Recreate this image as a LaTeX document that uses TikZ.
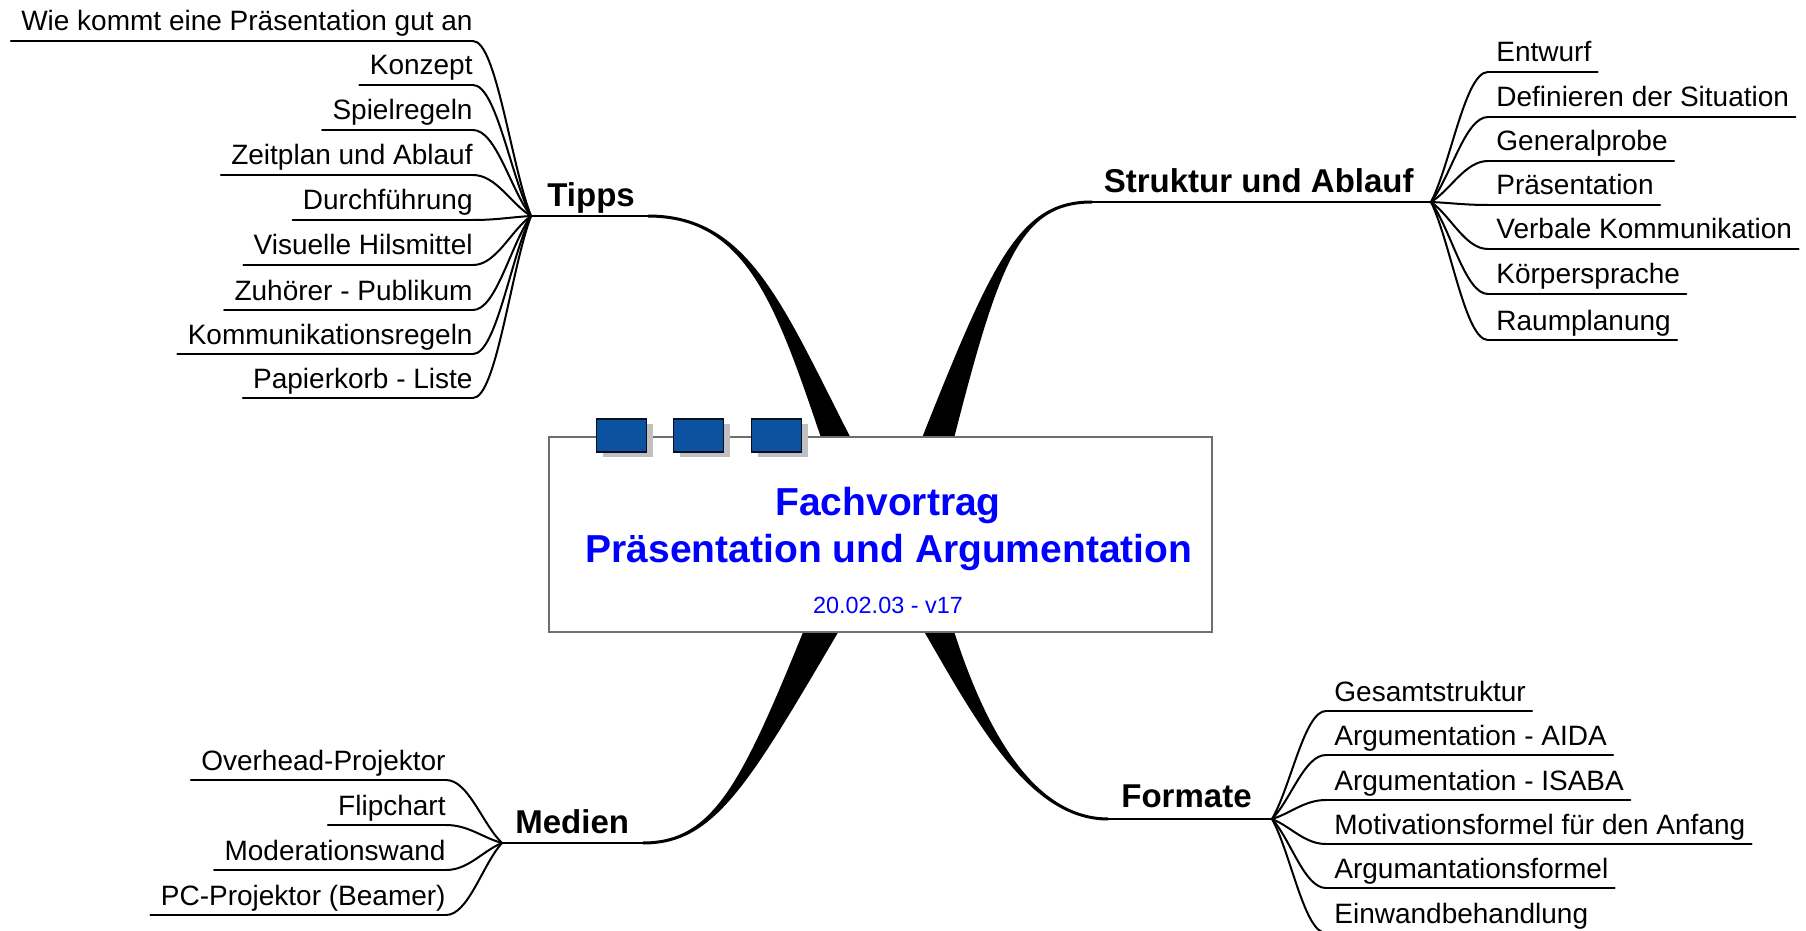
\documentclass[tikz,border=0pt]{standalone}
\usepackage{fontspec}
\setmainfont{Liberation Sans}
\usetikzlibrary{calc,shadows}
\definecolor{sqblue}{RGB}{12,82,160}
\definecolor{boxgray}{RGB}{110,110,110}
\definecolor{shadowgray}{RGB}{192,192,192}
\definecolor{titleblue}{RGB}{0,0,255}

% tapered main branch: #1 start (hub side), #2 end (centre), #3,#4 first control offset,
% #5,#6 second control offset from end, #7,#8 unit normal at end, #9 half width at end
\newcommand\taper[9]{%
  \fill[branchfill] ($(#1)+(0,-1.5)$)
    .. controls ($(#1)+(#3,{#4-1.5})$) and ($(#2)+({#5+4*(#7)},{#6+4*(#8)})$)
    .. ($(#2)+({#9*(#7)},{#9*(#8)})$)
    -- ($(#2)+({-#9*(#7)},{-#9*(#8)})$)
    .. controls ($(#2)+({#5-4*(#7)},{#6-4*(#8)})$) and ($(#1)+(#3,{#4+1.5})$)
    .. ($(#1)+(0,1.5)$) -- cycle;}

% thin connector from a sub topic line end to its hub
\newcommand\conn[2]{%
  \draw[connline] let \p1=(#1), \p2=(#2) in
    (\p1) .. controls ({\x1+0.4*(\x2-\x1)},\y1) and ({\x1+0.65*(\x2-\x1)},{\y1+0.7*(\y2-\y1)}) .. (\p2);}

\tikzset{
  childtext/.style={font=\fontsize{14}{16}\selectfont, inner xsep=5pt, inner ysep=0pt},
  maintext/.style={font=\bfseries\fontsize{16.5}{19}\selectfont, inner sep=0pt},
  uline/.style={line width=1pt, line cap=round},
  mainline/.style={line width=1.2pt, line cap=round},
  connline/.style={line width=1pt},
  branchfill/.style={fill=black},
  centerbox/.style={draw=boxgray, fill=white, line width=0.75pt, minimum width=331.5pt, minimum height=97.5pt, inner sep=0pt},
  sq/.style={draw=black!80!sqblue, fill=sqblue, line width=0.6pt, minimum width=25pt, minimum height=16.5pt, inner sep=0pt,
    drop shadow={shadow xshift=3pt, shadow yshift=-2.5pt, fill=shadowgray, opacity=1}},
  titletext/.style={font=\bfseries\fontsize{19.5}{23}\selectfont, text=titleblue, inner sep=0pt},
  datetext/.style={font=\fontsize{11.7}{14}\selectfont, text=titleblue, inner sep=0pt},
}

\begin{document}
\begin{tikzpicture}[x=0.5pt,y=-0.5pt]
\useasboundingbox (0,0) rectangle (1806,931);

% hubs and branch ends
\coordinate (thub) at (531,216);
\coordinate (tS) at (648,216);
\coordinate (tC) at (878,535);
\coordinate (shub) at (1431,202);
\coordinate (sS) at (1092,202);
\coordinate (sC) at (907,535);
\coordinate (mhub) at (502,843);
\coordinate (mS) at (643,843);
\coordinate (mC) at (868,535);
\coordinate (fhub) at (1272,819);
\coordinate (fS) at (1108,819);
\coordinate (fC) at (898,535);

% thick branches
\taper{tS}{tC}{120}{0}{-89}{-191}{0.91}{-0.42}{22}
\taper{sS}{sC}{-83}{0}{83}{-256}{-0.95}{-0.31}{22}
\taper{mS}{mC}{83}{0}{-114}{228.5}{-0.894}{-0.447}{24}
\taper{fS}{fC}{-105}{0}{50}{109}{0.909}{-0.416}{30}

% central topic
\node[centerbox] (ctr) at (880.5,534.5) {};
\node[sq] (q1) at (621.5,435.5) {};
\node[sq] (q2) at (698.5,435.5) {};
\node[sq] (q3) at (776.5,435.5) {};
\node[titletext, anchor=base] (ttl1) at (888,515) {Fachvortrag};
\node[titletext, anchor=base] (ttl2) at (889,562) {Präsentation und Argumentation};
\node[datetext, anchor=base] (date) at (888,613) {20.02.03 - v17};

% main topics
\node[maintext, anchor=base west] (tipps) at (547,206) {Tipps};
\draw[mainline] (thub) -- (tS);
\node[maintext, anchor=base east] (struktur) at (1414,192) {Struktur und Ablauf};
\draw[mainline] (sS) -- (shub);
\node[maintext, anchor=base west] (medien) at (515,833) {Medien};
\draw[mainline] (mhub) -- (mS);
\node[maintext, anchor=base east] (formate) at (1252,807) {Formate};
\draw[mainline] (fS) -- (fhub);

% Tipps sub topics
\foreach \k/\yy/\txt in {1/41/{Wie kommt eine Präsentation gut an}, 2/85/{Konzept}, 3/130/{Spielregeln},
  4/175/{Zeitplan und Ablauf}, 5/220/{Durchführung}, 6/265/{Visuelle Hilsmittel},
  7/310/{Zuhörer - Publikum}, 8/354/{Kommunikationsregeln}, 9/398/{Papierkorb - Liste}} {
  \node[childtext, anchor=base east] (t\k) at (483,{\yy-10}) {\txt};
  \draw[uline] ($(t\k.base west)+(0,10)$) -- ($(t\k.base east)+(-10,10)$) coordinate (te\k);
  \conn{te\k}{thub}
}

% Struktur sub topics
\foreach \k/\yy/\txt in {1/72/{Entwurf}, 2/117/{Definieren der Situation}, 3/161/{Generalprobe},
  4/205/{Präsentation}, 5/249/{Verbale Kommunikation}, 6/294/{Körpersprache}, 7/340/{Raumplanung}} {
  \node[childtext, anchor=base west] (s\k) at (1486,{\yy-10}) {\txt};
  \draw[uline] ($(s\k.base west)+(2,10)$) coordinate (se\k) -- ($(s\k.base east)+(-4,10)$);
  \conn{se\k}{shub}
}

% Medien sub topics
\foreach \k/\yy/\txt in {1/780/{Overhead-Projektor}, 2/825/{Flipchart}, 3/870/{Moderationswand},
  4/915/{PC-Projektor (Beamer)}} {
  \node[childtext, anchor=base east] (m\k) at (456,{\yy-10}) {\txt};
  \draw[uline] ($(m\k.base west)+(0,10)$) -- ($(m\k.base east)+(-10,10)$) coordinate (me\k);
  \conn{me\k}{mhub}
}

% Formate sub topics
\foreach \k/\yy/\txt in {1/711/{Gesamtstruktur}, 2/755/{Argumentation - AIDA}, 3/800/{Argumentation - ISABA},
  4/844/{Motivationsformel für den Anfang}, 5/888/{Argumantationsformel}, 6/933/{Einwandbehandlung}} {
  \node[childtext, anchor=base west] (f\k) at (1324,{\yy-10}) {\txt};
  \draw[uline] ($(f\k.base west)+(2,10)$) coordinate (fe\k) -- ($(f\k.base east)+(-4,10)$);
  \conn{fe\k}{fhub}
}
\end{tikzpicture}
\end{document}
